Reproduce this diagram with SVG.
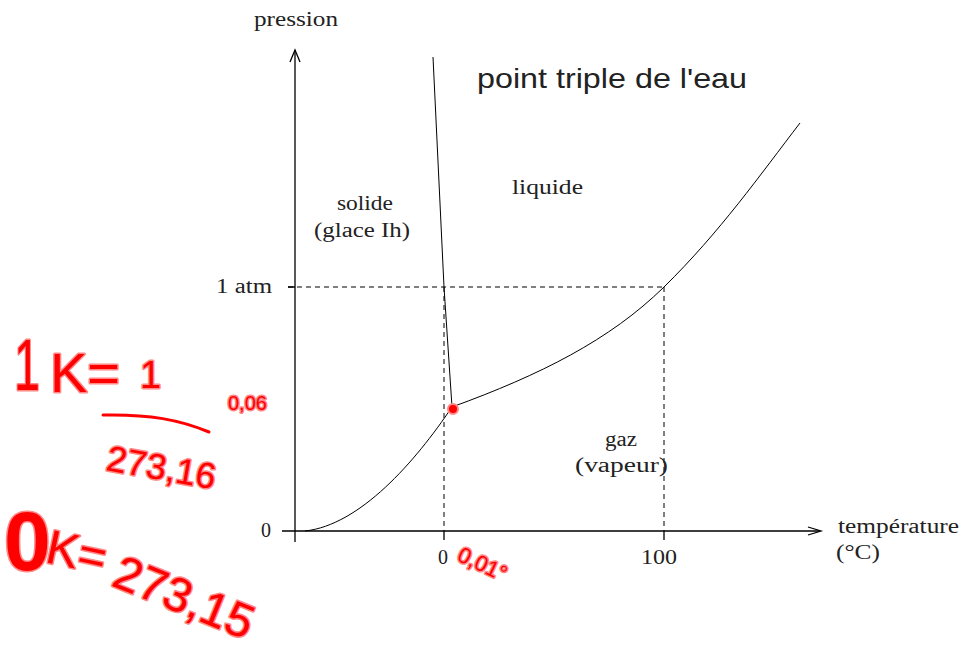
<svg xmlns="http://www.w3.org/2000/svg" width="961" height="652" viewBox="0 0 961 652">
<style>
.s{font-family:"Liberation Serif","Times New Roman",serif;font-size:20px;fill:#222}
.ax{stroke:#000;stroke-width:1.3;fill:none}
.d{stroke:#000;stroke-width:1;stroke-dasharray:5,4;fill:none}
.c{stroke:#000;stroke-width:1;fill:none}
.r{font-family:"Liberation Sans",Arial,sans-serif;fill:#f00;stroke:#f88;stroke-width:3;paint-order:stroke;stroke-linejoin:round}
.rl{stroke:#f00;stroke-width:3;fill:none;stroke-linecap:round}
</style>
<rect width="961" height="652" fill="#fff"/>
<g id="connectors">
<path class="ax" d="M295,542 V50 M282,531 H820"/>
<path class="ax" d="M290,62 L295,50 L300,62 M808,527 L821,531 L808,535"/>
<path class="ax" d="M288,287 H295 M444,531 V540 M664,531 V540"/>
<path class="d" d="M288,287 H664 M444,287 V531 M664,287 V531"/>
<path class="c" d="M433,57 L444,287 L452,407"/>
<path class="c" d="M452,407 C540,375 610,340 664,287 C720,232 760,175 800,123"/>
<path class="c" d="M305,531 C360,525 415,462 452,407"/>
</g>
<g id="triple"><circle cx="453" cy="409" r="5" fill="#f00" stroke="#f88" stroke-width="2"/></g>
<g id="title"><text x="477" y="88" font-family="'Liberation Sans',Arial,sans-serif" font-size="28" fill="#222" textLength="270" lengthAdjust="spacingAndGlyphs">point triple de l'eau</text></g>
<g id="labels">
<text class="s" x="254" y="26" textLength="84" lengthAdjust="spacingAndGlyphs">pression</text>
<text class="s" x="838" y="533" textLength="121" lengthAdjust="spacingAndGlyphs">température</text>
<text class="s" x="836" y="559" textLength="44" lengthAdjust="spacingAndGlyphs">(°C)</text>
<text class="s" x="216" y="293" textLength="56" lengthAdjust="spacingAndGlyphs">1 atm</text>
<text class="s" x="261" y="537">0</text>
<text class="s" x="438" y="564">0</text>
<text class="s" x="641" y="564" textLength="36" lengthAdjust="spacingAndGlyphs">100</text>
<text class="s" x="337" y="210" textLength="56" lengthAdjust="spacingAndGlyphs">solide</text>
<text class="s" x="314" y="237" textLength="96" lengthAdjust="spacingAndGlyphs">(glace Ih)</text>
<text class="s" x="512" y="194" textLength="71" lengthAdjust="spacingAndGlyphs">liquide</text>
<text class="s" x="605" y="446" textLength="32" lengthAdjust="spacingAndGlyphs">gaz</text>
<text class="s" x="575" y="472" textLength="93" lengthAdjust="spacingAndGlyphs">(vapeur)</text>
</g>
<g id="annotations">
<text class="r" x="14" y="390" font-size="72" textLength="26" lengthAdjust="spacingAndGlyphs">1</text>
<text class="r" x="50" y="392" font-size="56">K=</text>
<text class="r" x="140" y="388" font-size="38">1</text>
<path class="rl" d="M103,415 C150,414 180,420 209,432"/>
<text class="r" transform="translate(105,470) rotate(10)" font-size="36">273,16</text>
<text class="r" x="228" y="410" font-size="20">0,06</text>
<text class="r" x="4" y="570" font-size="84" font-weight="bold">0</text>
<text class="r" transform="translate(44,562) rotate(12)" font-size="48">K=</text>
<text class="r" transform="translate(110,585) rotate(22)" font-size="48">273,15</text>
<text class="r" transform="translate(456,560) rotate(25)" font-size="22">0,01°</text>
</g>
</svg>
